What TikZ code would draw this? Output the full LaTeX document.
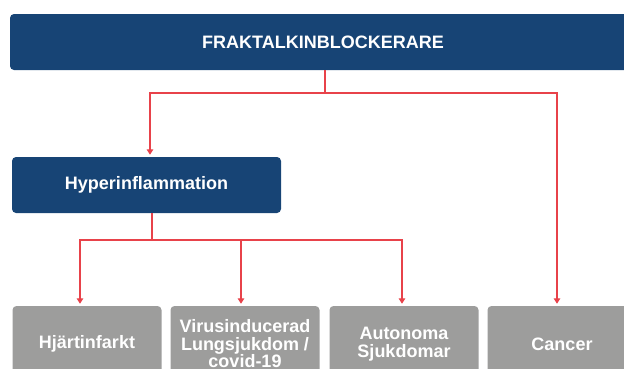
\documentclass[tikz,border=0pt]{standalone}
\usepackage{fontspec}
\setmainfont{Liberation Sans}
\usetikzlibrary{arrows.meta}
\definecolor{fkblue}{HTML}{174475}
\definecolor{fkgrey}{HTML}{9D9D9C}
\definecolor{fkred}{HTML}{E8424A}
\begin{document}
\begin{tikzpicture}[x=1pt, y=1pt,
   box/.style={rounded corners=4pt, text=white, align=center,
               font=\bfseries\fontsize{18}{17.5}\selectfont, inner sep=0pt},
   bluebox/.style={box, fill=fkblue},
   greybox/.style={box, fill=fkgrey, minimum width=149pt, minimum height=76pt},
   link/.style={fkred, line width=2pt},
   arr/.style={link, -{Triangle[width=6.5pt,length=5.5pt]}, shorten >=2pt}]
\useasboundingbox (0,0) rectangle (624,368);
\clip (0,0) rectangle (624,368);

\node[bluebox, minimum width=626pt, minimum height=56pt] (fraktal) at (323,326) {FRAKTALKINBLOCKERARE};
\node[bluebox, minimum width=269pt, minimum height=56pt] (hyper) at (146.5,183) {Hyperinflammation};

\node[greybox] (hjarta) at (87,24) {Hjärtinfarkt};
\node[greybox] (virus)  at (245,24) {Virusinducerad\\Lungsjukdom /\\covid-19};
\node[greybox] (auto)   at (404,24) {Autonoma\\Sjukdomar};
\node[greybox] (cancer) at (562,24) {Cancer};

% first level
\coordinate (bus1) at (325,275);
\draw[link] (fraktal.south -| bus1) -- (bus1);
\draw[arr] (bus1) -| ([xshift=3.5pt]hyper.north);
\draw[arr] (bus1) -| ([xshift=-5pt]cancer.north);

% second level
\coordinate (bus2) at (152,128);
\draw[link] (hyper.south -| bus2) -- (bus2);
\draw[arr] (bus2) -| ([xshift=-7pt]hjarta.north);
\draw[arr] (bus2) -| ([xshift=-4pt]virus.north);
\draw[arr] (bus2) -| ([xshift=-2pt]auto.north);
\end{tikzpicture}
\end{document}
